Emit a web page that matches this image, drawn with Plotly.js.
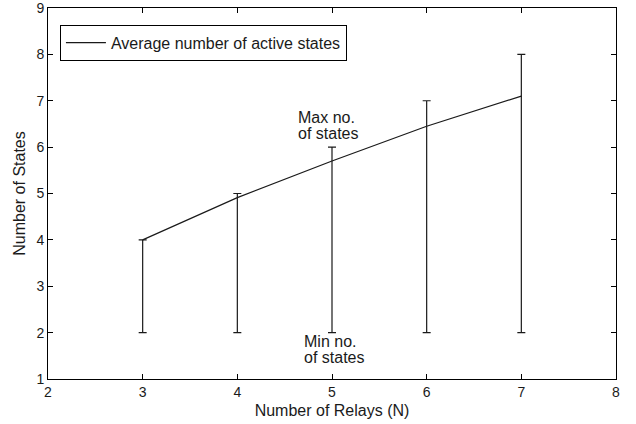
<!DOCTYPE html>
<html>
<head>
<meta charset="utf-8">
<script src="https://cdn.plot.ly/plotly-3.0.1.min.js"></script>
<style>html,body{margin:0;padding:0;background:#fff;}#chart{width:636px;height:424px;}</style>
</head>
<body>
<div id="chart"></div>
<script>
// Data
const relays = [3, 4, 5, 6, 7];
const avgStates = [4, 4.91, 5.7, 6.45, 7.1];
const maxStates = [4, 5, 6, 7, 8];
const minStates = [2, 2, 2, 2, 2];
const xTicks = [2, 3, 4, 5, 6, 7, 8];
const yTicks = [1, 2, 3, 4, 5, 6, 7, 8, 9];
const legendName = 'Average number of active states';
const labelTexts = ['Max no.', 'of states', 'Min no.', 'of states'];
const labelX = [4.62, 4.62, 4.68, 4.68];
const labelY = [6.63, 6.30, 1.81, 1.47];

const FONT = 'Arial, "Liberation Sans", Helvetica, sans-serif';
const INK = '#1a1a1a';

const rangeTrace = {
  x: relays,
  y: minStates,
  type: 'scatter',
  mode: 'markers',
  marker: {size: 1, opacity: 0},
  showlegend: false,
  hoverinfo: 'skip',
  error_y: {
    type: 'data',
    symmetric: false,
    array: maxStates.map((m, i) => m - minStates[i]),
    arrayminus: minStates.map(() => 0),
    color: INK,
    thickness: 1.2,
    width: 4
  }
};

const avgTrace = {
  x: relays,
  y: avgStates,
  type: 'scatter',
  mode: 'lines',
  name: legendName,
  line: {color: INK, width: 1.2}
};

const annotations = labelTexts.map((t, i) => ({
  x: labelX[i], y: labelY[i], xref: 'x', yref: 'y',
  text: t, showarrow: false, xanchor: 'left', yanchor: 'middle',
  font: {family: FONT, size: 16, color: INK}
}));

const axisCommon = {
  showline: true, linecolor: '#000', linewidth: 1, mirror: 'ticks',
  ticks: 'inside', ticklen: 5, tickcolor: '#000', tickwidth: 1,
  showgrid: false, zeroline: false,
  ticklabeloverflow: 'allow',
  tickfont: {family: FONT, size: 14, color: INK}
};

const layout = {
  width: 636, height: 424,
  margin: {l: 48, r: 20, t: 8, b: 45},
  paper_bgcolor: '#fff', plot_bgcolor: '#fff',
  font: {family: FONT, color: INK},
  xaxis: Object.assign({}, axisCommon, {
    range: [2, 8], tickvals: xTicks, ticktext: xTicks.map(String),
    title: {text: 'Number of Relays (N)', font: {family: FONT, size: 16, color: INK}, standoff: 6}
  }),
  yaxis: Object.assign({}, axisCommon, {
    range: [1, 9], tickvals: yTicks, ticktext: yTicks.map(String),
    title: {text: 'Number of States', font: {family: FONT, size: 16, color: INK}, standoff: 6}
  }),
  legend: {
    x: 0.021, y: 0.955, xanchor: 'left', yanchor: 'top',
    bgcolor: '#fff', bordercolor: '#000', borderwidth: 1,
    font: {family: FONT, size: 16, color: INK},
    itemwidth: 40,
    tracegroupgap: 0
  },
  showlegend: true,
  annotations: annotations
};

Plotly.newPlot('chart', [rangeTrace, avgTrace], layout, {displayModeBar: false, staticPlot: true});
</script>
</body>
</html>
